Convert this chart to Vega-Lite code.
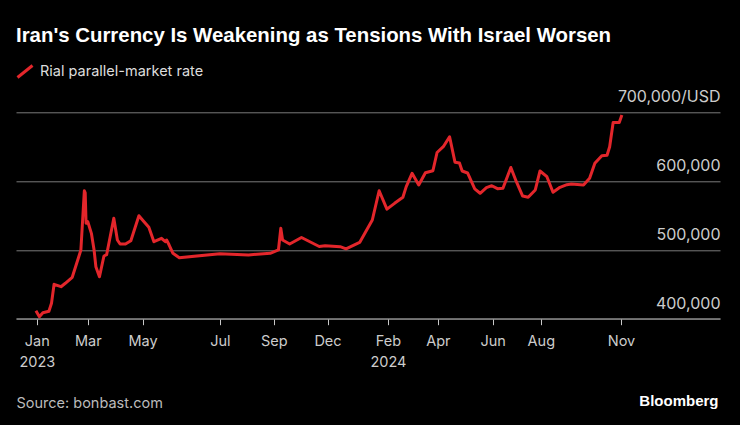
{
  "$schema": "https://vega.github.io/schema/vega-lite/v6.json",
  "width": 704,
  "height": 206.4,
  "autosize": {"type": "none"},
  "padding": {"left": 16, "top": 112.3, "right": 20, "bottom": 106.3},
  "background": "#000000",
  "title": {
    "text": "Iran's Currency Is Weakening as Tensions With Israel Worsen",
    "anchor": "start",
    "frame": "group",
    "font": "Liberation Sans",
    "fontSize": 20.4,
    "fontWeight": "bold",
    "color": "#ffffff",
    "offset": 16
  },
  "data": {
    "values": [
      {"date": "2022-12-31", "rate": 411600},
      {"date": "2023-01-04", "rate": 402900},
      {"date": "2023-01-08", "rate": 408700},
      {"date": "2023-01-15", "rate": 410800},
      {"date": "2023-01-18", "rate": 422400},
      {"date": "2023-01-21", "rate": 450000},
      {"date": "2023-01-29", "rate": 446500},
      {"date": "2023-02-03", "rate": 451500},
      {"date": "2023-02-11", "rate": 460200},
      {"date": "2023-02-18", "rate": 487800},
      {"date": "2023-02-21", "rate": 499900},
      {"date": "2023-02-25", "rate": 586000},
      {"date": "2023-02-26", "rate": 583000},
      {"date": "2023-02-27", "rate": 538700},
      {"date": "2023-03-01", "rate": 541000},
      {"date": "2023-03-05", "rate": 524100},
      {"date": "2023-03-08", "rate": 499900},
      {"date": "2023-03-10", "rate": 475600},
      {"date": "2023-03-14", "rate": 461000},
      {"date": "2023-03-19", "rate": 491100},
      {"date": "2023-03-22", "rate": 493000},
      {"date": "2023-03-30", "rate": 545900},
      {"date": "2023-04-03", "rate": 514400},
      {"date": "2023-04-06", "rate": 508600},
      {"date": "2023-04-12", "rate": 508600},
      {"date": "2023-04-18", "rate": 513400},
      {"date": "2023-04-27", "rate": 549700},
      {"date": "2023-05-01", "rate": 543500},
      {"date": "2023-05-06", "rate": 532800},
      {"date": "2023-05-10", "rate": 511900},
      {"date": "2023-05-16", "rate": 516900},
      {"date": "2023-05-19", "rate": 511900},
      {"date": "2023-05-20", "rate": 514400},
      {"date": "2023-05-22", "rate": 507100},
      {"date": "2023-05-25", "rate": 495100},
      {"date": "2023-05-30", "rate": 488700},
      {"date": "2023-07-01", "rate": 494500},
      {"date": "2023-08-03", "rate": 492700},
      {"date": "2023-08-28", "rate": 495100},
      {"date": "2023-09-09", "rate": 499900},
      {"date": "2023-09-13", "rate": 531400},
      {"date": "2023-09-16", "rate": 514400},
      {"date": "2023-09-28", "rate": 508600},
      {"date": "2023-10-18", "rate": 518000},
      {"date": "2023-11-17", "rate": 504900},
      {"date": "2023-11-27", "rate": 506100},
      {"date": "2023-12-14", "rate": 504700},
      {"date": "2023-12-20", "rate": 501600},
      {"date": "2024-01-03", "rate": 510800},
      {"date": "2024-01-16", "rate": 543500},
      {"date": "2024-01-23", "rate": 586000},
      {"date": "2024-01-31", "rate": 559200},
      {"date": "2024-02-09", "rate": 567700},
      {"date": "2024-02-19", "rate": 576500},
      {"date": "2024-02-23", "rate": 591900},
      {"date": "2024-03-01", "rate": 611300},
      {"date": "2024-03-09", "rate": 594300},
      {"date": "2024-03-17", "rate": 612200},
      {"date": "2024-03-26", "rate": 615100},
      {"date": "2024-03-31", "rate": 641600},
      {"date": "2024-04-07", "rate": 650000},
      {"date": "2024-04-14", "rate": 664500},
      {"date": "2024-04-20", "rate": 627500},
      {"date": "2024-04-25", "rate": 626300},
      {"date": "2024-04-28", "rate": 614700},
      {"date": "2024-05-04", "rate": 611800},
      {"date": "2024-05-12", "rate": 588800},
      {"date": "2024-05-18", "rate": 582300},
      {"date": "2024-05-25", "rate": 590400},
      {"date": "2024-05-31", "rate": 593300},
      {"date": "2024-06-07", "rate": 589000},
      {"date": "2024-06-14", "rate": 589500},
      {"date": "2024-06-24", "rate": 619800},
      {"date": "2024-07-01", "rate": 599100},
      {"date": "2024-07-09", "rate": 578300},
      {"date": "2024-07-16", "rate": 576500},
      {"date": "2024-07-25", "rate": 587100},
      {"date": "2024-07-31", "rate": 614700},
      {"date": "2024-08-08", "rate": 606400},
      {"date": "2024-08-15", "rate": 583700},
      {"date": "2024-08-23", "rate": 591000},
      {"date": "2024-08-31", "rate": 594800},
      {"date": "2024-09-05", "rate": 595800},
      {"date": "2024-09-19", "rate": 594300},
      {"date": "2024-09-26", "rate": 604100},
      {"date": "2024-10-02", "rate": 625900},
      {"date": "2024-10-10", "rate": 636900},
      {"date": "2024-10-16", "rate": 637500},
      {"date": "2024-10-19", "rate": 650000},
      {"date": "2024-10-23", "rate": 685200},
      {"date": "2024-10-30", "rate": 685200},
      {"date": "2024-11-02", "rate": 696100}
    ]
  },
  "mark": {"type": "line", "strokeWidth": 3, "strokeJoin": "round"},
  "encoding": {
    "x": {
      "field": "date",
      "type": "temporal",
      "scale": {
        "type": "utc",
        "nice": false,
        "domain": {"expr": "[utc(2022,11,8), utc(2023,0,1), utc(2023,2,1), utc(2023,4,1), utc(2023,6,1), utc(2023,8,1), utc(2023,11,1), utc(2024,1,1), utc(2024,3,1), utc(2024,5,1), utc(2024,7,1), utc(2024,10,1), utc(2025,1,22)]"},
        "range": [0, 20.8, 71.8, 126.5, 203.9, 257.7, 311.5, 371.9, 421.9, 476.7, 524.8, 605, 704]
      },
      "axis": {
        "values": [
          {"year": 2023, "month": 1, "date": 1, "utc": true},
          {"year": 2023, "month": 3, "date": 1, "utc": true},
          {"year": 2023, "month": 5, "date": 1, "utc": true},
          {"year": 2023, "month": 7, "date": 1, "utc": true},
          {"year": 2023, "month": 9, "date": 1, "utc": true},
          {"year": 2023, "month": 12, "date": 1, "utc": true},
          {"year": 2024, "month": 2, "date": 1, "utc": true},
          {"year": 2024, "month": 4, "date": 1, "utc": true},
          {"year": 2024, "month": 6, "date": 1, "utc": true},
          {"year": 2024, "month": 8, "date": 1, "utc": true},
          {"year": 2024, "month": 11, "date": 1, "utc": true}
        ],
        "labelExpr": "[utcFormat(datum.value, '%b'), (utcFormat(datum.value, '%Y-%m') == '2023-01' || utcFormat(datum.value, '%Y-%m') == '2024-02') ? utcFormat(datum.value, '%Y') : '']",
        "grid": false,
        "domain": true,
        "domainColor": "#9a9a9a",
        "domainWidth": 1,
        "ticks": true,
        "tickSize": 6,
        "tickColor": "#c8c8c8",
        "tickWidth": 1,
        "labelFont": "Inter",
        "labelFontSize": 14.5,
        "labelColor": "#cccccc",
        "labelPadding": 10,
        "labelBaseline": "top",
        "labelLineHeight": 20.5,
        "labelFlush": false,
        "labelOverlap": false,
        "labelBound": false,
        "title": "Source: bonbast.com",
        "titleFont": "Inter",
        "titleFontSize": 14.5,
        "titleFontWeight": "normal",
        "titleColor": "#bbbbbb",
        "titleAnchor": "start",
        "titleAlign": "left",
        "titleBaseline": "alphabetic",
        "titleX": 0,
        "titleY": 88.3
      }
    },
    "y": {
      "field": "rate",
      "type": "quantitative",
      "scale": {"domain": [400000, 700000], "nice": false, "zero": false},
      "axis": {
        "orient": "right",
        "values": [400000, 500000, 600000, 700000],
        "labelExpr": "datum.value == 700000 ? '700,000/USD' : format(datum.value, ',')",
        "grid": true,
        "gridColor": "#7a7a7a",
        "gridWidth": 1,
        "domain": false,
        "ticks": false,
        "tickSize": 0,
        "labelPadding": 0,
        "labelAlign": "right",
        "labelBaseline": "alphabetic",
        "labelOffset": -10.5,
        "labelFont": "Inter",
        "labelFontSize": 16,
        "labelColor": "#cccccc",
        "labelFlush": false,
        "labelOverlap": false,
        "labelBound": false,
        "title": "Bloomberg",
        "titleAngle": 0,
        "titleAlign": "right",
        "titleBaseline": "alphabetic",
        "titleX": -2,
        "titleY": 293.5,
        "titleFont": "Liberation Sans",
        "titleFontSize": 15,
        "titleFontWeight": "bold",
        "titleColor": "#ffffff"
      }
    },
    "color": {
      "datum": "Rial parallel-market rate",
      "type": "nominal",
      "scale": {"range": ["#e3262b"]},
      "legend": {
        "orient": "none",
        "legendX": 0,
        "legendY": -49.8,
        "title": null,
        "symbolType": "M-1,0.8L1,-0.8",
        "symbolSize": 225,
        "symbolStrokeWidth": 3,
        "labelFont": "Inter",
        "labelFontSize": 14.5,
        "labelColor": "#dddddd",
        "labelOffset": 6,
        "labelLimit": 0,
        "padding": 0
      }
    }
  },
  "config": {"view": {"stroke": null}}
}
